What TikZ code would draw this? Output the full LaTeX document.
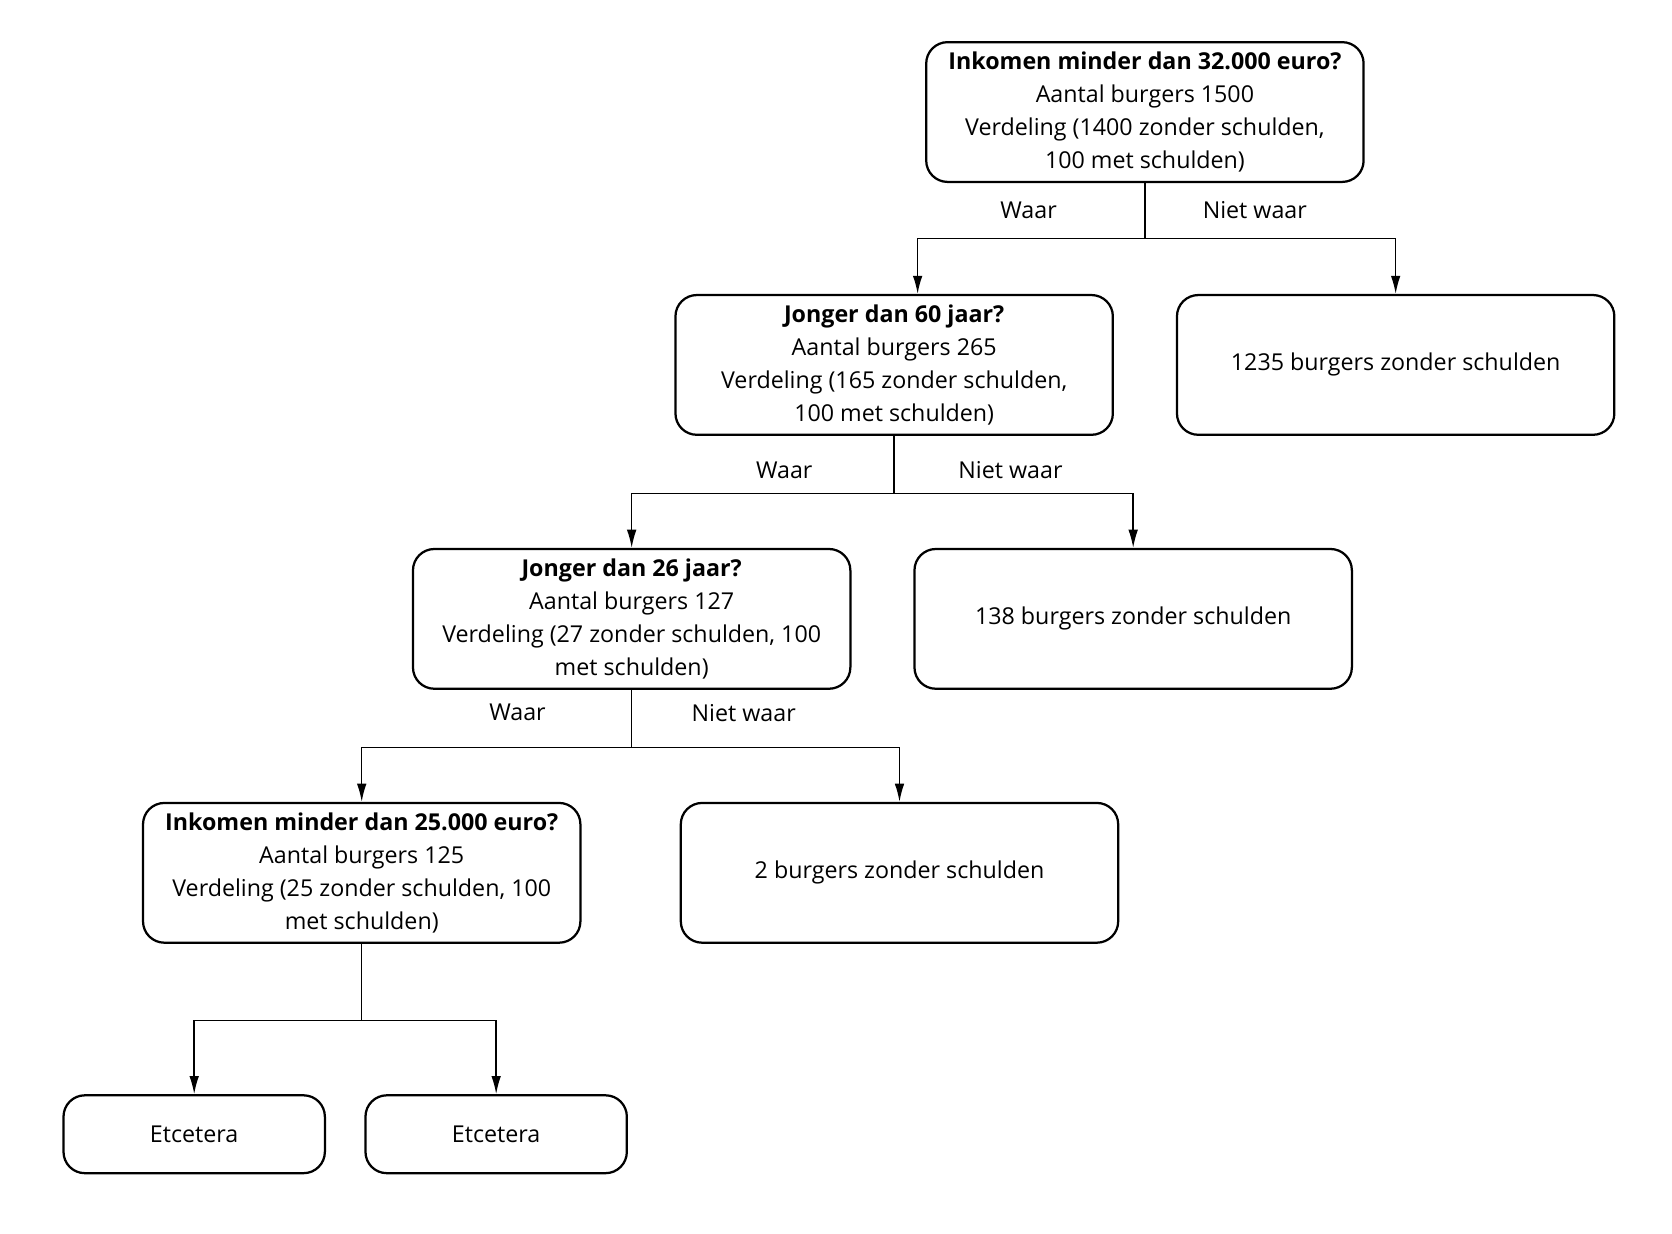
\documentclass[tikz,border=0pt]{standalone}
\usepackage{fontspec}
\setmainfont{Open Sans}
\usetikzlibrary{arrows.meta}

\begin{document}
\begin{tikzpicture}[x=0.02cm, y=-0.02cm,
  font=\fontsize{12.4}{17.5}\selectfont,
  vraag/.style={draw, line width=1.2pt, rounded corners=0.4cm, minimum width=8.2cm, minimum height=2.62cm, inner sep=0pt, align=center},
  etc/.style={vraag, minimum width=4.9cm, minimum height=1.46cm},
  pijl/.style={-{Latex[length=0.34cm,width=0.18cm]}, line width=0.8pt}]
  \useasboundingbox (0,0) rectangle (1567,1156);
  % Vragen en uitkomsten
  \node[vraag] (inkomen32) at (1073,105) {\textbf{Inkomen minder dan 32.000 euro?}\\Aantal burgers 1500\\Verdeling (1400 zonder schulden,\\100 met schulden)};
  \node[vraag] (jonger60) at (838,342) {\textbf{Jonger dan 60 jaar?}\\Aantal burgers 265\\Verdeling (165 zonder schulden,\\100 met schulden)};
  \node[vraag] (rest1235) at (1308,342) {1235 burgers zonder schulden};
  \node[vraag] (jonger26) at (592,580) {\textbf{Jonger dan 26 jaar?}\\Aantal burgers 127\\Verdeling (27 zonder schulden, 100\\met schulden)};
  \node[vraag] (rest138) at (1062,580) {138 burgers zonder schulden};
  \node[vraag] (inkomen25) at (339,818) {\textbf{Inkomen minder dan 25.000 euro?}\\Aantal burgers 125\\Verdeling (25 zonder schulden, 100\\met schulden)};
  \node[vraag] (rest2) at (843,818) {2 burgers zonder schulden};
  \node[etc] (etc1) at (182,1063) {Etcetera};
  \node[etc] (etc2) at (465,1063) {Etcetera};
  % Takken
  \draw[pijl] (inkomen32.south) -- ++(0,52) coordinate (split1) -| ([xshift=0.44cm]jonger60.north);
  \draw[pijl] (split1) -| (rest1235.north);
  \draw[pijl] (jonger60.south) -- ++(0,54) coordinate (split2) -| (jonger26.north);
  \draw[pijl] (split2) -| (rest138.north);
  \draw[pijl] (jonger26.south) -- ++(0,54) coordinate (split3) -| (inkomen25.north);
  \draw[pijl] (split3) -| (rest2.north);
  \draw[pijl] (inkomen25.south) -- ++(0,72) coordinate (split4) -| (etc1.north);
  \draw[pijl] (split4) -| (etc2.north);
  % Labels
  \node (waar1) at (964,197) {Waar};
  \node (nietwaar1) at (1176,197) {Niet waar};
  \node (waar2) at (735,441) {Waar};
  \node (nietwaar2) at (947,441) {Niet waar};
  \node (waar3) at (485,668) {Waar};
  \node (nietwaar3) at (697,668) {Niet waar};
\end{tikzpicture}
\end{document}
